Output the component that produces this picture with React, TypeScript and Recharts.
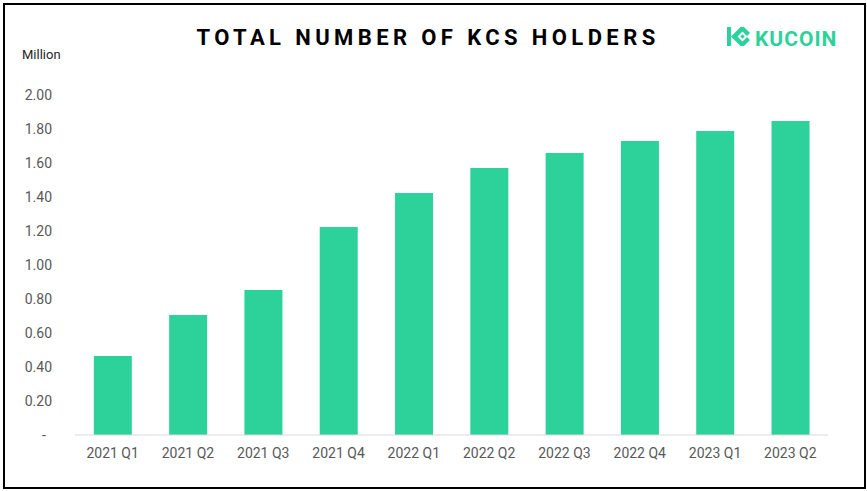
import { BarChart, Bar, XAxis, YAxis } from "recharts";

const quarters = [
  "2021 Q1",
  "2021 Q2",
  "2021 Q3",
  "2021 Q4",
  "2022 Q1",
  "2022 Q2",
  "2022 Q3",
  "2022 Q4",
  "2023 Q1",
  "2023 Q2",
];
// KCS holders, in millions
const holders = [0.465, 0.706, 0.853, 1.224, 1.424, 1.571, 1.659, 1.729, 1.788, 1.847];
const yTicks = [0, 0.2, 0.4, 0.6, 0.8, 1.0, 1.2, 1.4, 1.6, 1.8, 2.0];

const data = quarters.map((q, i) => ({ quarter: q, holders: holders[i] }));

const GREEN = "#2dd29a";
const LABEL = "#595959";
const FONT = "Roboto, 'DejaVu Sans', sans-serif";

function YTick(props: any) {
  const { x, y, payload } = props;
  if (payload.value === 0) {
    return (
      <text x={x - 8} y={y} dy="0.35em" textAnchor="middle" fill={LABEL} fontSize={14} fontFamily={FONT}>
        -
      </text>
    );
  }
  return (
    <text x={x} y={y} dy="0.35em" textAnchor="end" fill={LABEL} fontSize={14} fontFamily={FONT}>
      {payload.value.toFixed(2)}
    </text>
  );
}

function Logo() {
  return (
    <svg width={120} height={30} style={{ position: "absolute", left: 722, top: 22 }}>
      <g fill={GREEN} stroke="none">
        {/* K stem */}
        <rect x={5} y={5} width={4} height={19} />
        {/* chevron arms */}
        <path d="M9 14.5 L18.5 5 L22 5 L28 11 L25 14 L20.5 9.5 L15.5 14.5 L20.5 19.5 L25 15 L28 18 L22 24 L18.5 24 Z" />
        {/* small diamond */}
        <path d="M20.5 12.3 L22.7 14.5 L20.5 16.7 L18.3 14.5 Z" />
      </g>
      <text
        x={33}
        y={24}
        fill={GREEN}
        fontSize={21}
        fontWeight={700}
        fontFamily={FONT}
        letterSpacing={1}
      >
        KUCOIN
      </text>
    </svg>
  );
}

export default function App() {
  return (
    <div
      style={{
        position: "absolute",
        left: 0,
        top: 0,
        width: 867,
        height: 491,
        background: "#fff",
        fontFamily: FONT,
      }}
    >
      <div
        style={{
          position: "absolute",
          left: 3,
          top: 3,
          width: 863,
          height: 486,
          border: "2px solid #000",
          boxSizing: "border-box",
        }}
      />
      <div
        style={{
          position: "absolute",
          left: 0,
          width: 856,
          top: 25,
          textAlign: "center",
          fontSize: 22,
          fontWeight: 700,
          letterSpacing: 4.4,
          color: "#000",
          lineHeight: "26px",
        }}
      >
        TOTAL NUMBER OF KCS HOLDERS
      </div>
      <div
        style={{
          position: "absolute",
          left: 22,
          top: 47,
          fontSize: 13,
          color: "#262626",
        }}
      >
        Million
      </div>
      <Logo />
      <div style={{ position: "absolute", left: 0, top: 0 }}>
        <BarChart
          width={867}
          height={491}
          data={data}
          margin={{ top: 95, right: 39, bottom: 26, left: 15 }}
          barCategoryGap="25%"
        >
          <XAxis
            dataKey="quarter"
            height={30}
            axisLine={{ stroke: "#d9d9d9" }}
            tickLine={false}
            tickMargin={7}
            tick={{ fill: LABEL, fontSize: 14, fontFamily: FONT }}
            interval={0}
          />
          <YAxis
            width={60}
            domain={[0, 2]}
            ticks={yTicks}
            axisLine={false}
            tickLine={false}
            tickMargin={17}
            tick={<YTick />}
            interval={0}
          />
          <Bar dataKey="holders" fill={GREEN} isAnimationActive={false} />
        </BarChart>
      </div>
    </div>
  );
}
